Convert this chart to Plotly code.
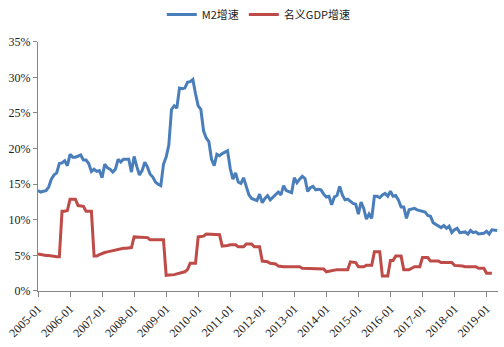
import pandas as pd
import plotly.graph_objects as go

# Monthly categories 2005-01 .. 2019-05
months = [d.strftime("%Y-%m") for d in pd.date_range("2005-01-01", "2019-05-01", freq="MS")]

# M2 year-on-year growth, %
m2_growth = [
    14.1, 13.9, 14.0, 14.1, 14.6, 15.7, 16.3, 16.6, 17.9, 18.0, 18.3, 17.6,
    19.2, 18.8, 18.8, 18.9, 19.1, 18.4, 18.4, 17.9, 16.8, 17.1, 16.8, 16.9,
    15.9, 17.8, 17.3, 17.1, 16.7, 17.1, 18.5, 18.1, 18.5, 18.5, 18.5, 16.7,
    18.9, 17.5, 16.3, 16.9, 18.1, 17.4, 16.4, 16.0, 15.3, 15.0, 14.8, 17.8,
    18.8, 20.5, 25.5, 26.0, 25.7, 28.5, 28.4, 28.5, 29.3, 29.4, 29.7, 27.7,
    26.0, 25.5, 22.5, 21.5, 21.0, 18.5, 17.6, 19.2, 19.0, 19.3, 19.5, 19.7,
    17.2, 15.7, 16.6, 15.3, 15.1, 15.9, 14.7, 13.5, 13.0, 12.9, 12.7, 13.6,
    12.4, 13.0, 13.4, 12.8, 13.2, 13.6, 13.9, 13.5, 14.8, 14.1, 13.9, 13.8,
    15.9, 15.2, 15.7, 16.1, 15.8, 14.0, 14.5, 14.7, 14.2, 14.3, 14.2, 13.6,
    13.2, 13.3, 12.1, 13.2, 13.4, 14.7, 13.5, 12.8, 12.9, 12.6, 12.3, 12.2,
    10.8, 12.5, 11.6, 10.1, 10.8, 10.2, 13.3, 13.3, 13.1, 13.5, 13.7, 13.3,
    14.0, 13.3, 13.4, 12.8, 11.8, 11.8, 10.2, 11.4, 11.5, 11.6, 11.4, 11.3,
    11.3, 11.1, 10.6, 10.5, 9.6, 9.4, 9.2, 8.9, 9.2, 8.8, 9.1, 8.2,
    8.6, 8.8, 8.2, 8.3, 8.3, 8.0, 8.5, 8.2, 8.3, 8.0, 8.0, 8.1,
    8.4, 8.0, 8.6, 8.5, 8.5,
]

# Nominal GDP growth, %
gdp_growth = [
    5.2, 5.1, 5.1, 5.0, 5.0, 4.9, 4.9, 4.8, 4.8, 11.2, 11.2, 11.3,
    12.9, 12.9, 12.9, 12.0, 12.0, 11.9, 11.2, 11.2, 11.2, 4.9, 4.9, 5.1,
    5.3, 5.4, 5.5, 5.6, 5.7, 5.8, 5.8, 5.9, 6.0, 6.0, 6.1, 6.1,
    7.6, 7.6, 7.6, 7.6, 7.6, 7.5, 7.2, 7.2, 7.2, 7.2, 7.2, 7.2,
    2.2, 2.2, 2.3, 2.3, 2.4, 2.5, 2.6, 2.7, 3.0, 3.9, 3.9, 3.9,
    7.6, 7.6, 7.7, 8.0, 8.0, 8.0, 7.9, 7.9, 7.9, 6.3, 6.3, 6.4,
    6.5, 6.5, 6.5, 6.2, 6.2, 6.2, 6.6, 6.6, 6.6, 6.2, 6.2, 6.2,
    4.2, 4.2, 4.1, 3.9, 3.9, 3.8, 3.5, 3.4, 3.4, 3.4, 3.4, 3.4,
    3.4, 3.4, 3.4, 3.2, 3.2, 3.2, 3.2, 3.2, 3.2, 3.2, 3.1, 3.1,
    2.7, 2.8, 2.9, 3.0, 3.0, 3.0, 3.0, 3.0, 3.0, 4.1, 4.1, 4.0,
    3.4, 3.4, 3.4, 3.6, 3.6, 3.6, 5.5, 5.5, 5.5, 2.1, 2.1, 2.1,
    4.3, 4.3, 4.9, 4.9, 4.9, 3.0, 3.0, 3.0, 3.2, 3.4, 3.4, 3.4,
    4.7, 4.7, 4.7, 4.2, 4.2, 4.2, 4.2, 4.0, 4.0, 4.0, 4.0, 4.0,
    3.6, 3.6, 3.5, 3.5, 3.4, 3.4, 3.4, 3.4, 3.4, 3.2, 3.2, 3.2,
    2.5, 2.5, 2.5, None, None,
]

tick_labels = [f"{y}-01" for y in range(2005, 2020)]
y_ticks = [0, 5, 10, 15, 20, 25, 30, 35]
y_tick_text = [f"{v}%" for v in y_ticks]

fig = go.Figure()
fig.add_trace(go.Scatter(
    x=months, y=m2_growth, mode="lines", name="M2增速",
    line=dict(color="#4A7EBB", width=3),
))
fig.add_trace(go.Scatter(
    x=months, y=gdp_growth, mode="lines", name="名义GDP增速",
    line=dict(color="#BE4B48", width=3),
))

axis_font = dict(family="Liberation Serif", size=12, color="#222222")

fig.update_layout(
    width=504, height=347,
    margin=dict(l=38, r=6, t=40, b=56),
    paper_bgcolor="white", plot_bgcolor="white",
    showlegend=True,
    legend=dict(
        orientation="h", x=0.48, xanchor="center",
        y=1.0, yref="container", yanchor="top",
        font=dict(family="Noto Sans CJK SC", size=11, color="#222222"),
        itemwidth=30, tracegroupgap=0,
    ),
    xaxis=dict(
        type="category",
        range=[0, 172.3],
        tickmode="array", tickvals=tick_labels, ticktext=tick_labels,
        tickangle=-45, tickfont=axis_font,
        ticks="outside", ticklen=5, tickcolor="#868686",
        showline=True, linecolor="#868686", linewidth=1,
        showgrid=False, zeroline=False,
    ),
    yaxis=dict(
        range=[0, 35], tickmode="array", tickvals=y_ticks, ticktext=y_tick_text,
        tickfont=axis_font,
        ticks="outside", ticklen=4, tickcolor="#868686",
        showline=True, linecolor="#868686", linewidth=1,
        showgrid=False, zeroline=False,
    ),
)

fig.write_html("out.html")
